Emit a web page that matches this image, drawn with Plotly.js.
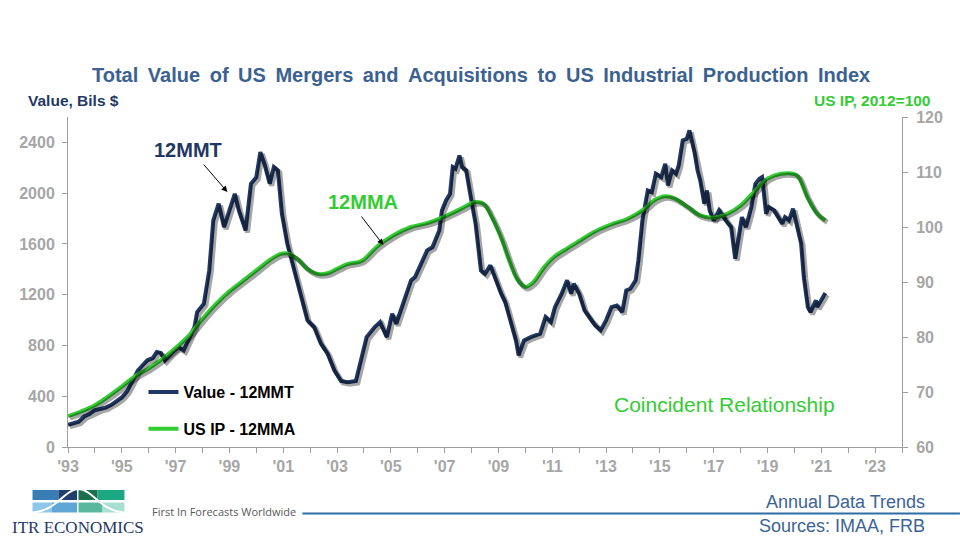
<!DOCTYPE html>
<html>
<head>
<meta charset="utf-8">
<script src="https://cdn.plot.ly/plotly-3.0.1.min.js"></script>
<style>html,body{margin:0;padding:0;background:#fff;}#chart{width:960px;height:540px;}</style>
</head>
<body>
<div id="chart"></div>
<script>
// ---- Data ----
// Value of US M&A, 12-month moving total (Bils $)
const valueYears = [1993.0,1993.2,1993.4,1993.6,1993.8,1994.0,1994.2,1994.4,1994.6,1994.8,1995.0,1995.2,1995.4,1995.6,1995.8,1995.95,1996.15,1996.3,1996.45,1996.6,1996.85,1997.1,1997.3,1997.5,1997.7,1997.8,1998.05,1998.25,1998.4,1998.6,1998.8,1999.0,1999.2,1999.35,1999.6,1999.8,2000.0,2000.15,2000.3,2000.5,2000.65,2000.8,2000.95,2001.15,2001.4,2001.65,2001.9,2002.15,2002.4,2002.65,2002.9,2003.15,2003.4,2003.7,2003.85,2004.1,2004.4,2004.6,2004.85,2005.05,2005.2,2005.5,2005.75,2005.9,2006.2,2006.35,2006.55,2006.8,2006.9,2007.05,2007.2,2007.3,2007.4,2007.55,2007.65,2007.8,2007.95,2008.15,2008.35,2008.5,2008.7,2008.9,2009.1,2009.25,2009.45,2009.65,2009.75,2009.95,2010.2,2010.4,2010.55,2010.75,2010.95,2011.1,2011.35,2011.55,2011.7,2011.8,2012.0,2012.2,2012.45,2012.6,2012.8,2013.0,2013.2,2013.4,2013.6,2013.75,2013.9,2014.1,2014.2,2014.35,2014.55,2014.7,2014.85,2015.05,2015.2,2015.3,2015.45,2015.6,2015.7,2015.85,2016.0,2016.1,2016.3,2016.4,2016.5,2016.65,2016.75,2016.85,2017.0,2017.2,2017.45,2017.65,2017.8,2017.9,2018.05,2018.2,2018.4,2018.55,2018.7,2018.8,2018.85,2018.95,2019.05,2019.25,2019.4,2019.55,2019.65,2019.8,2019.95,2020.1,2020.25,2020.35,2020.5,2020.6,2020.8,2020.85,2021.15];
const valueMMT = [175,190,200,240,260,290,300,310,330,360,390,440,520,604,650,683,700,748,740,683,740,787,761,850,945,1063,1129,1391,1785,1917,1732,1864,1995,1864,1706,2074,2126,2323,2231,2074,2205,2179,1838,1602,1391,1181,998,945,814,735,604,520,510,520,660,866,945,984,866,1050,971,1155,1313,1339,1470,1549,1575,1706,1864,1943,1995,2205,2192,2297,2205,2179,1995,1759,1391,1365,1431,1313,1208,1142,998,840,722,840,866,880,893,1024,984,1102,1208,1313,1208,1287,1208,1076,998,958,919,998,1102,1115,1063,1234,1247,1313,1470,1785,2021,2008,2153,2126,2231,2061,2179,2153,2218,2415,2428,2494,2310,2179,2100,1917,2021,1864,1785,1864,1785,1732,1484,1628,1811,1732,1890,2074,2113,2126,2047,1838,1890,1864,1811,1759,1811,1785,1877,1732,1602,1339,1102,1063,1155,1102,1213];
// US Industrial Production, 12-month moving average (2012=100)
const ipYears = [1993.0,1993.5,1994.0,1994.5,1995.0,1995.5,1996.0,1996.5,1997.0,1997.5,1998.0,1998.5,1999.0,1999.5,2000.0,2000.5,2000.9,2001.15,2001.5,2001.9,2002.25,2002.65,2003.0,2003.4,2003.9,2004.5,2005.1,2005.75,2006.35,2006.95,2007.6,2008.1,2008.45,2008.75,2009.1,2009.4,2009.7,2010.0,2010.3,2010.7,2011.05,2011.55,2012.05,2012.55,2013.2,2013.8,2014.4,2014.8,2015.2,2015.55,2016.05,2016.5,2017.0,2017.5,2018.0,2018.5,2019.0,2019.5,2020.0,2020.15,2020.5,2020.85,2021.15];
const ipMMA = [65.6,66.5,67.6,69.2,71.0,72.9,74.3,76.0,78.0,80.3,83.3,86.0,88.3,90.2,92.1,94.0,95.1,95.2,94.3,92.4,91.5,91.6,92.4,93.3,93.8,96.5,98.5,100.0,100.7,101.8,103.3,104.5,104.2,101.8,98.0,93.9,90.5,89.1,90.0,92.7,94.5,96.1,97.6,99.1,100.5,101.5,103.2,104.9,105.6,105.2,103.6,102.1,101.7,102.4,103.9,106.4,108.8,109.7,109.6,109.1,105.2,102.4,101.2];
// Axis ticks
const xTickVals = [1993,1995,1997,1999,2001,2003,2005,2007,2009,2011,2013,2015,2017,2019,2021,2023];
const xTickText = ["'93","'95","'97","'99","'01","'03","'05","'07","'09","'11","'13","'15","'17","'19","'21","'23"];
const leftTicks = [0,400,800,1200,1600,2000,2400];
const rightTicks = [60,70,80,90,100,110,120];

// ---- Layout helpers (plot area in pixels) ----
const L = 67.5, R = 902, T = 117, B = 447;
const W = 960, H = 540;
const mL = L, mR = W - R, mT = T, mB = H - B;
const px = v => (v - L) / (R - L);
const py = v => (B - v) / (B - T);

const navy = '#1F3864';
const green = '#33CC33';
const grey = '#A6A6A6';
const axisGrey = '#9E9E9E';
const xRange = [1993, 2024];
const yRange = [0, 2600];
const y2Range = [60, 120];
// shadow offsets (2px right, 2px down)
const dx = 2 * (xRange[1] - xRange[0]) / (R - L);
const dy = 2 * (yRange[1] - yRange[0]) / (B - T);
const dy2 = 2 * (y2Range[1] - y2Range[0]) / (B - T);

const traces = [
  {x: valueYears, y: valueMMT, xaxis: 'x3', yaxis: 'y3', mode: 'lines', showlegend: false, hoverinfo: 'skip',
   line: {color: 'rgba(0,0,0,0.35)', width: 5}},
  {x: ipYears, y: ipMMA, xaxis: 'x3', yaxis: 'y4', mode: 'lines', showlegend: false, hoverinfo: 'skip',
   line: {color: 'rgba(0,0,0,0.35)', width: 5, shape: 'spline', smoothing: 1}},
  {x: valueYears, y: valueMMT, name: 'Value - 12MMT', mode: 'lines', legendgroup: 'a',
   line: {color: navy, width: 4}},
  {x: ipYears, y: ipMMA, name: 'US IP - 12MMA', yaxis: 'y2', mode: 'lines', legendgroup: 'b',
   line: {color: green, width: 4, shape: 'spline', smoothing: 1}}
];

const tickFont = {family: 'Arial, Liberation Sans, sans-serif', size: 16, color: grey, weight: 'bold'};

function rect(x0, x1, y0, y1, color) {
  return {type: 'rect', xref: 'paper', yref: 'paper', x0: px(x0), x1: px(x1), y0: py(y1), y1: py(y0),
          fillcolor: color, line: {width: 0}, layer: 'above'};
}
// bell-shaped curve of the logo
function bellPath() {
  const pts = [];
  for (let i = 0; i <= 30; i++) {
    const xx = 32 + i * (124 - 32) / 30;
    const z = (xx - 78) / 17;
    const yy = 513 - 24 * Math.exp(-z * z / 2);
    pts.push((i ? 'L' : 'M') + px(xx).toFixed(5) + ',' + py(yy).toFixed(5));
  }
  return pts.join(' ');
}

const shapes = [
  // logo blocks
  rect(32, 58, 490, 500, '#3A7DB5'),
  rect(58, 76.5, 490, 500, '#1F3F6E'),
  rect(78, 97, 490, 500, '#1D6E4B'),
  rect(97, 124, 490, 500, '#1BA883'),
  rect(32, 51, 502.5, 512.5, '#8CC6E8'),
  rect(51, 76.5, 502.5, 512.5, '#5EA6D5'),
  rect(78, 102, 502.5, 512.5, '#5CB89C'),
  rect(102, 124, 502.5, 512.5, '#A9DFD0'),
  {type: 'path', xref: 'paper', yref: 'paper', path: bellPath(), line: {color: '#FFFFFF', width: 2}, layer: 'above'},
  // footer rule
  {type: 'line', xref: 'paper', yref: 'paper', x0: px(302), x1: px(960), y0: py(513.5), y1: py(513.5),
   line: {color: '#2E6DA4', width: 2}}
];

const sp = ' \u2009';
const titleText = ['Total','Value','of','US','Mergers','and','Acquisitions','to','US','Industrial','Production','Index'].join(sp);

const annotations = [
  {text: titleText, xref: 'paper', yref: 'paper',
   x: px(481), y: py(75), xanchor: 'center', yanchor: 'middle', showarrow: false,
   font: {family: 'Arial, Liberation Sans, sans-serif', size: 20, color: '#3B6192', weight: 'bold'}},
  {text: 'Value, Bils $', xref: 'paper', yref: 'paper', x: px(25), y: py(100), xanchor: 'left', yanchor: 'middle', showarrow: false,
   font: {family: 'Arial, Liberation Sans, sans-serif', size: 15.5, color: navy, weight: 'bold'}},
  {text: 'US IP, 2012=100', xref: 'paper', yref: 'paper', x: px(933), y: py(100), xanchor: 'right', yanchor: 'middle', showarrow: false,
   font: {family: 'Arial, Liberation Sans, sans-serif', size: 15.5, color: green, weight: 'bold'}},
  {text: '12MMT', xref: 'paper', yref: 'paper', x: px(188), y: py(150), xanchor: 'center', yanchor: 'middle', showarrow: false,
   font: {family: 'Arial, Liberation Sans, sans-serif', size: 20, color: navy, weight: 'bold'}},
  {text: '', xref: 'paper', yref: 'paper', x: px(227), y: py(192), ax: px(202), ay: py(163), axref: 'paper', ayref: 'paper',
   showarrow: true, arrowhead: 2, arrowsize: 1.2, arrowwidth: 1, arrowcolor: '#000000'},
  {text: '12MMA', xref: 'paper', yref: 'paper', x: px(363), y: py(202), xanchor: 'center', yanchor: 'middle', showarrow: false,
   font: {family: 'Arial, Liberation Sans, sans-serif', size: 20, color: green, weight: 'bold'}},
  {text: '', xref: 'paper', yref: 'paper', x: px(383), y: py(245), ax: px(360), ay: py(215), axref: 'paper', ayref: 'paper',
   showarrow: true, arrowhead: 2, arrowsize: 1.2, arrowwidth: 1, arrowcolor: '#000000'},
  {text: 'Coincident Relationship', xref: 'paper', yref: 'paper', x: px(724), y: py(404), xanchor: 'center', yanchor: 'middle', showarrow: false,
   font: {family: 'Arial, Liberation Sans, sans-serif', size: 21, color: green}},
  {text: 'ITR ECONOMICS', xref: 'paper', yref: 'paper', x: px(78), y: py(527), xanchor: 'center', yanchor: 'middle', showarrow: false,
   font: {family: 'Liberation Serif, DejaVu Serif, serif', size: 17, color: navy}},
  {text: 'First In Forecasts Worldwide', xref: 'paper', yref: 'paper', x: px(150), y: py(511), xanchor: 'left', yanchor: 'middle', showarrow: false,
   font: {family: 'Open Sans, sans-serif', size: 11, color: '#595959'}},
  {text: 'Annual Data Trends', xref: 'paper', yref: 'paper', x: px(927), y: py(502), xanchor: 'right', yanchor: 'middle', showarrow: false,
   font: {family: 'Arial, Liberation Sans, sans-serif', size: 18, color: '#3B6496'}},
  {text: 'Sources: IMAA, FRB', xref: 'paper', yref: 'paper', x: px(927), y: py(526), xanchor: 'right', yanchor: 'middle', showarrow: false,
   font: {family: 'Arial, Liberation Sans, sans-serif', size: 18, color: '#3B6496'}}
];

const layout = {
  width: W, height: H,
  margin: {l: mL, r: mR, t: mT, b: mB, pad: 0},
  paper_bgcolor: '#FFFFFF', plot_bgcolor: '#FFFFFF',
  showlegend: true,
  legend: {x: px(143), y: py(375), xanchor: 'left', yanchor: 'top', bgcolor: 'rgba(0,0,0,0)',
           traceorder: 'grouped', tracegroupgap: 13,
           font: {family: 'Arial, Liberation Sans, sans-serif', size: 16, color: '#000000', weight: 'bold'}},
  xaxis: {range: xRange, tickmode: 'array', tickvals: xTickVals, ticktext: xTickText,
          showgrid: false, zeroline: false, showline: true, linecolor: axisGrey, linewidth: 1,
          ticks: 'outside', ticklen: 5, tickcolor: axisGrey,
          minor: {dtick: 1, tick0: 1993, ticks: 'outside', ticklen: 5, tickcolor: axisGrey, showgrid: false},
          tickfont: tickFont},
  yaxis: {range: yRange, tickmode: 'array', tickvals: leftTicks, showgrid: false, zeroline: false,
          showline: true, linecolor: axisGrey, ticks: 'outside', ticklen: 5, tickcolor: axisGrey, tickfont: tickFont,
          ticklabelstandoff: 4},
  yaxis2: {range: y2Range, overlaying: 'y', side: 'right', tickmode: 'array', tickvals: rightTicks, showgrid: false,
           zeroline: false, showline: true, linecolor: axisGrey, ticks: 'outside', ticklen: 5, tickcolor: axisGrey, tickfont: tickFont,
           ticklabelstandoff: 5},
  xaxis3: {range: [xRange[0] - dx, xRange[1] - dx], overlaying: 'x', visible: false},
  yaxis3: {range: [yRange[0] + dy, yRange[1] + dy], overlaying: 'y', visible: false},
  yaxis4: {range: [y2Range[0] + dy2, y2Range[1] + dy2], overlaying: 'y', visible: false},
  shapes: shapes,
  annotations: annotations
};

Plotly.newPlot('chart', traces, layout, {displayModeBar: false, staticPlot: true});
</script>
</body>
</html>
